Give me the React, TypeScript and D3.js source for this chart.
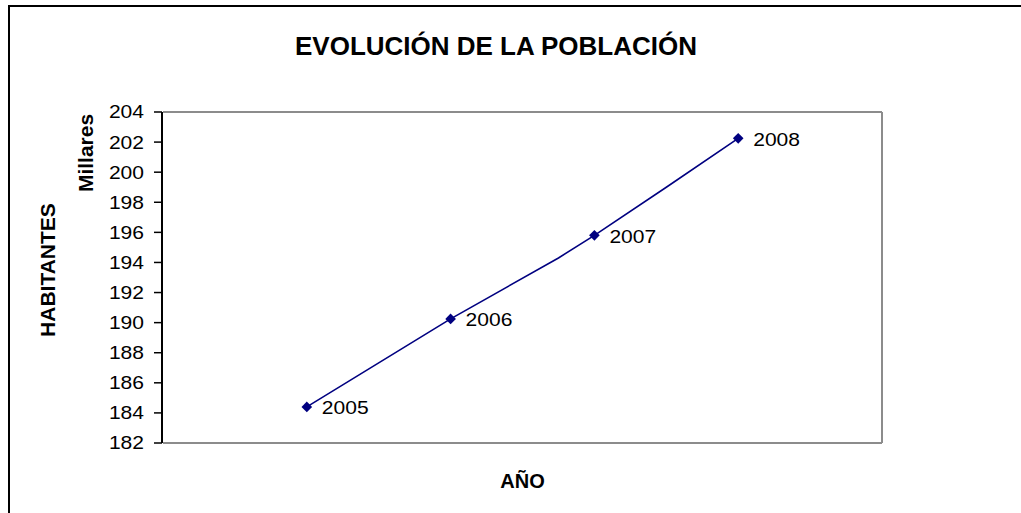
import * as d3 from 'd3';

const years = [2005, 2006, 2007, 2008];
const habitantes = [184.4, 190.25, 195.8, 202.25];
// trazado de la línea (incluye vértices intermedios sin marcador)
const pathYears = [2005, 2006, 2006.75, 2007, 2007.5, 2008];
const pathValues = [184.4, 190.25, 194.3, 195.8, 199.0, 202.25];
const yTicks = [182, 184, 186, 188, 190, 192, 194, 196, 198, 200, 202, 204];

const title = 'EVOLUCIÓN DE LA POBLACIÓN';
const xTitle = 'AÑO';
const yTitle = 'HABITANTES';
const yUnit = 'Millares';

const W = 1021;
const H = 513;
const font = '"Liberation Sans", Arial, sans-serif';
const navy = '#000080';

export default function App() {
  const plot = { left: 163, right: 882, top: 112, bottom: 443 };

  const x = d3.scaleLinear().domain([2004, 2009]).range([plot.left, plot.right]);
  const y = d3.scaleLinear().domain([182, 204]).range([plot.bottom, plot.top]);

  const line = d3.line<number>()
    .x((d) => x(d))
    .y((_, i) => y(pathValues[i]));

  const diamond = d3.symbol(d3.symbolDiamond2, 72)();

  return (
    <svg width={W} height={H} style={{ position: 'absolute', left: 0, top: 0, background: '#fff' }}>
      <rect x={9} y={6} width={W + 50} height={H + 50} fill="#fff" stroke="#000" strokeWidth={2} />

      <text x={496} y={55} textAnchor="middle" fontFamily={font} fontWeight="bold" fontSize={26}>
        {title}
      </text>

      {/* Área del gráfico */}
      <line x1={plot.left} x2={plot.right} y1={plot.top} y2={plot.top} stroke="#8c8c8c" strokeWidth={2} />
      <line x1={plot.right} x2={plot.right} y1={plot.top} y2={plot.bottom} stroke="#8c8c8c" strokeWidth={2} />
      <line x1={plot.left} x2={plot.right} y1={plot.bottom} y2={plot.bottom} stroke="#8c8c8c" strokeWidth={2} />
      <line x1={plot.left - 1} x2={plot.left - 1} y1={plot.top} y2={plot.bottom} stroke="#000" strokeWidth={2} />

      {yTicks.map((t) => (
        <g key={t}>
          <line x1={plot.left - 9} x2={plot.left - 1} y1={y(t)} y2={y(t)} stroke="#000" strokeWidth={1.5} />
          <text
            x={0}
            y={0}
            textAnchor="end"
            dominantBaseline="central"
            fontFamily={font}
            fontSize={18}
            transform={`translate(${plot.left - 19},${y(t)}) scale(1.17,1)`}
          >
            {t}
          </text>
        </g>
      ))}

      <path d={line(pathYears) ?? ''} fill="none" stroke={navy} strokeWidth={1.6} />

      {years.map((yr, i) => (
        <g key={yr}>
          <path d={diamond ?? ''} transform={`translate(${x(yr)},${y(habitantes[i])})`} fill={navy} />
          <text
            x={0}
            y={0}
            dominantBaseline="central"
            fontFamily={font}
            fontSize={18}
            transform={`translate(${x(yr) + 15},${y(habitantes[i]) + 1}) scale(1.17,1)`}
          >
            {yr}
          </text>
        </g>
      ))}

      <text x={(plot.left + plot.right) / 2} y={488} textAnchor="middle" fontFamily={font} fontWeight="bold" fontSize={20}>
        {xTitle}
      </text>
      <text
        transform="translate(55,270) rotate(-90)"
        textAnchor="middle"
        fontFamily={font}
        fontWeight="bold"
        fontSize={21}
      >
        {yTitle}
      </text>
      <text
        transform="translate(93,153) rotate(-90)"
        textAnchor="middle"
        fontFamily={font}
        fontWeight="bold"
        fontSize={21}
      >
        {yUnit}
      </text>
    </svg>
  );
}
